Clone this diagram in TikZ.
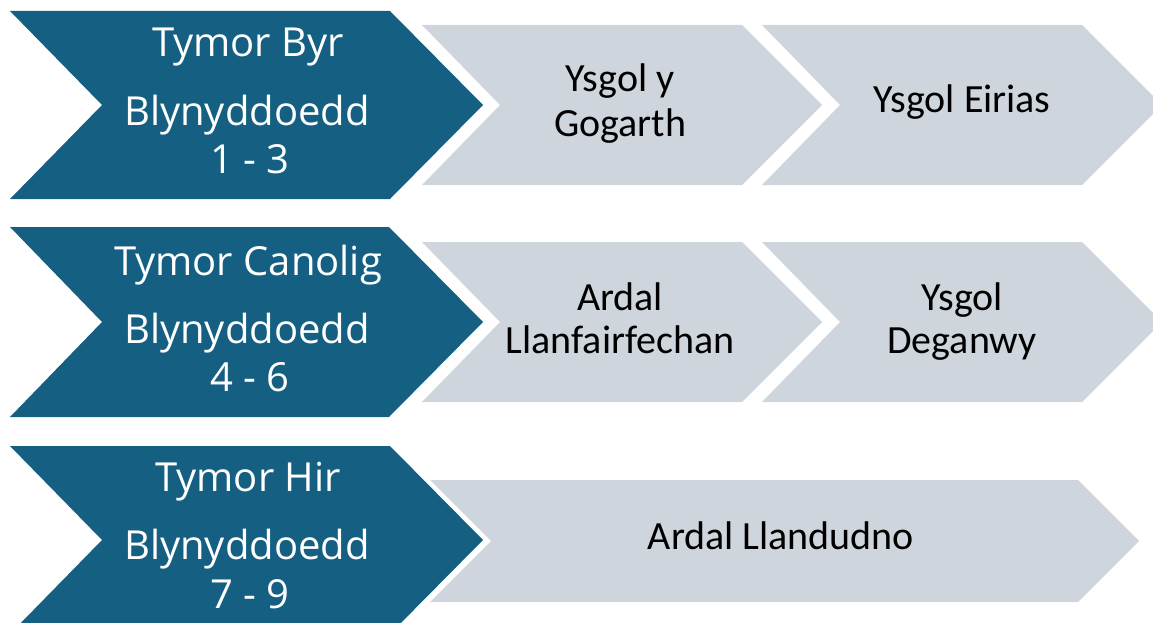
\documentclass[tikz,border=0pt]{standalone}
\usepackage{fontspec}
\setmainfont{Open Sans}
\newfontfamily\narrowfont{Carlito}
\definecolor{chevblue}{HTML}{156082}
\definecolor{chevgray}{HTML}{CFD5DC}
\tikzset{
  bluechev/.style={fill=chevblue,draw=none},
  graychev/.style={fill=chevgray,draw=none},
  bluetext/.style={text=white,font=\fontsize{40}{48}\selectfont,inner sep=0pt,anchor=base},
  graytext/.style={text=black,font=\narrowfont\fontsize{40}{44}\selectfont,inner sep=0pt,anchor=base}
}
\begin{document}
\begin{tikzpicture}[x=1pt,y=-1pt]
\useasboundingbox (0,0) rectangle (1153,623);
\clip (0,0) rectangle (1153,623);
% row 1
\path[graychev] (422,25) -- (742,25) -- (822,105) -- (742,185) -- (422,185) -- (500,105) -- cycle;
\path[graychev] (762,25) -- (1082,25) -- (1162,105) -- (1082,185) -- (762,185) -- (840,105) -- cycle;
\path[bluechev] (10,11) -- (390,11) -- (483,105) -- (390,199) -- (10,199) -- (102,105) -- cycle;
% row 2
\path[graychev] (422,242) -- (742,242) -- (822,322) -- (742,402) -- (422,402) -- (500,322) -- cycle;
\path[graychev] (762,242) -- (1082,242) -- (1162,322) -- (1082,402) -- (762,402) -- (840,322) -- cycle;
\path[bluechev] (10,227) -- (389,227) -- (483,322) -- (389,417) -- (10,417) -- (102,322) -- cycle;
% row 3
\path[graychev] (430,480) -- (1078,480) -- (1139,541) -- (1078,602) -- (430,602) -- (491,541) -- cycle;
\path[bluechev] (10,446) -- (390,446) -- (483,540) -- (390,634) -- (10,634) -- (102,540) -- cycle;
% blue texts
\node[bluetext] (t1) at (248,57) {Tymor Byr};
\node[bluetext] (b1) at (247,125) {Blynyddoedd};
\node[bluetext] (n1) at (250,173) {1 - 3};
\node[bluetext] (t2) at (248,275) {Tymor Canolig};
\node[bluetext] (b2) at (247,343) {Blynyddoedd};
\node[bluetext] (n2) at (250,391) {4 - 6};
\node[bluetext] (t3) at (248,491) {Tymor Hir};
\node[bluetext] (b3) at (247,559) {Blynyddoedd};
\node[bluetext] (n3) at (250,608) {7 - 9};
% gray texts
\node[graytext] (g1a) at (620,92) {Ysgol y};
\node[graytext] (g1b) at (620,136) {Gogarth};
\node[graytext] (g2) at (962,113) {Ysgol Eirias};
\node[graytext] (g3a) at (620,310) {Ardal};
\node[graytext] (g3b) at (620,353) {Llanfairfechan};
\node[graytext] (g4a) at (962,310) {Ysgol};
\node[graytext] (g4b) at (962,353) {Deganwy};
\node[graytext] (g5) at (781,549) {Ardal Llandudno};
\end{tikzpicture}
\end{document}
